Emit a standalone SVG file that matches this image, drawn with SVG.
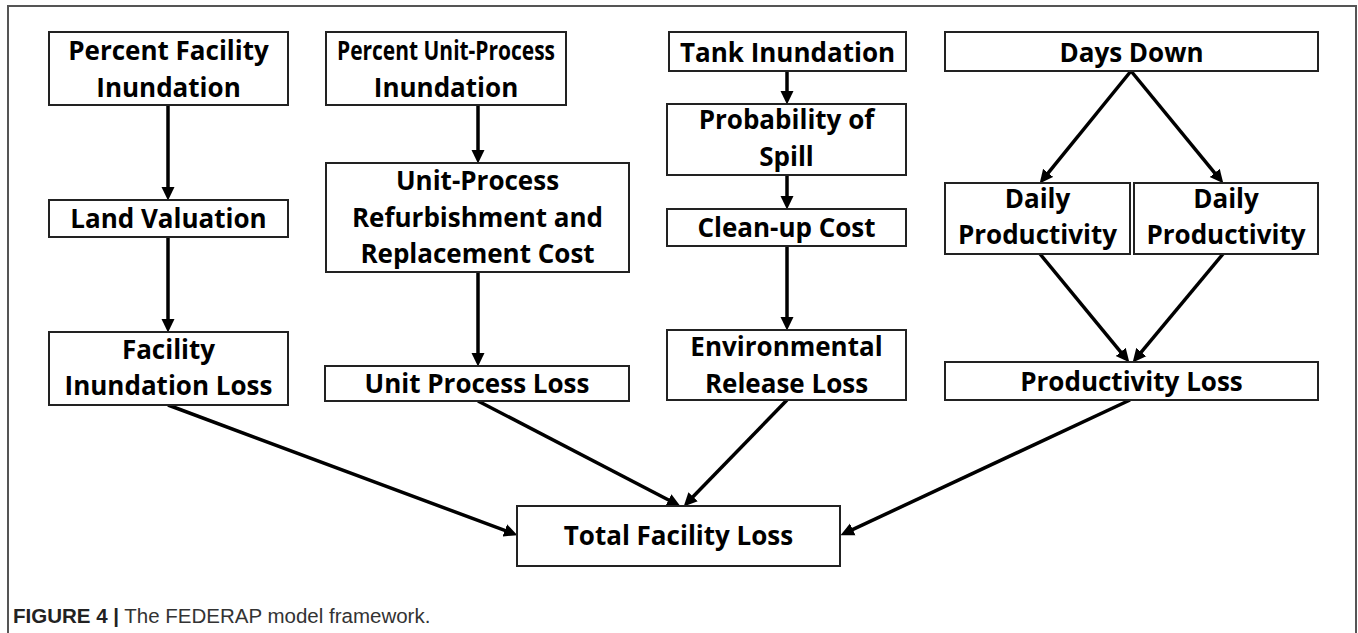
<svg xmlns="http://www.w3.org/2000/svg" width="1358" height="633" viewBox="0 0 1358 633">
<style>
.box{fill:#fff;stroke:#222;stroke-width:2}
.t{font-family:"Open Sans","Liberation Sans",sans-serif;font-weight:bold;font-size:26px;fill:#000;text-anchor:middle}
.c{stroke:#000;stroke-width:3.5;fill:none}
.frame{stroke:#555;stroke-width:2;fill:none}
.cap{font-family:"Liberation Sans",Arial,sans-serif;font-size:20.5px;fill:#333}
</style>
<defs>
<marker id="ah" markerUnits="userSpaceOnUse" markerWidth="14" markerHeight="14" viewBox="0 0 14 14" refX="5" refY="7" orient="auto">
<path d="M0,0.5 L13.5,7 L0,13.5 z" fill="#000"/>
</marker>
</defs>
<rect width="1358" height="633" fill="#fff"/>
<path class="frame" d="M8,633 L8,6 L1356,6 L1356,633"/>

<g id="connectors">
<line class="c" x1="168" y1="105" x2="168" y2="192" marker-end="url(#ah)"/>
<line class="c" x1="168" y1="237" x2="168" y2="324" marker-end="url(#ah)"/>
<line class="c" x1="478" y1="105" x2="478" y2="155" marker-end="url(#ah)"/>
<line class="c" x1="478" y1="272" x2="478" y2="358" marker-end="url(#ah)"/>
<line class="c" x1="787" y1="71" x2="787" y2="96" marker-end="url(#ah)"/>
<line class="c" x1="787" y1="175" x2="787" y2="201" marker-end="url(#ah)"/>
<line class="c" x1="787" y1="246" x2="787" y2="322" marker-end="url(#ah)"/>
<line class="c" x1="1131" y1="71" x2="1045" y2="176.8" marker-end="url(#ah)"/>
<line class="c" x1="1131" y1="71" x2="1217.9" y2="176.8" marker-end="url(#ah)"/>
<line class="c" x1="1040" y1="254" x2="1123.9" y2="355.8" marker-end="url(#ah)"/>
<line class="c" x1="1223" y1="254" x2="1138.1" y2="355.9" marker-end="url(#ah)"/>
<line class="c" x1="168" y1="405" x2="509.5" y2="532.2" marker-end="url(#ah)"/>
<line class="c" x1="478" y1="401" x2="672.9" y2="502.3" marker-end="url(#ah)"/>
<line class="c" x1="787" y1="400" x2="689.6" y2="500.3" marker-end="url(#ah)"/>
<line class="c" x1="1130" y1="400" x2="848.2" y2="531.6" marker-end="url(#ah)"/>
</g>

<g id="percent-facility-inundation">
<rect class="box" x="49" y="32" width="239" height="73"/>
<text class="t" x="168.5" y="60">Percent Facility</text>
<text class="t" x="168.5" y="97">Inundation</text>
</g>
<g id="land-valuation">
<rect class="box" x="49" y="200" width="239" height="37"/>
<text class="t" x="168.5" y="228">Land Valuation</text>
</g>
<g id="facility-inundation-loss">
<rect class="box" x="49" y="332" width="239" height="73"/>
<text class="t" x="168.5" y="359">Facility</text>
<text class="t" x="168.5" y="395">Inundation Loss</text>
</g>
<g id="percent-unit-process-inundation">
<rect class="box" x="326" y="32" width="240" height="73"/>
<text class="t" x="446" y="60" font-size="25" textLength="218" lengthAdjust="spacingAndGlyphs">Percent Unit-Process</text>
<text class="t" x="446" y="97">Inundation</text>
</g>
<g id="unit-process-cost">
<rect class="box" x="326" y="163" width="303" height="109"/>
<text class="t" x="477.5" y="190">Unit-Process</text>
<text class="t" x="477.5" y="227">Refurbishment and</text>
<text class="t" x="477.5" y="263">Replacement Cost</text>
</g>
<g id="unit-process-loss">
<rect class="box" x="325" y="366" width="304" height="35"/>
<text class="t" x="477" y="393">Unit Process Loss</text>
</g>
<g id="tank-inundation">
<rect class="box" x="669" y="32" width="237" height="39"/>
<text class="t" x="787.5" y="62">Tank Inundation</text>
</g>
<g id="probability-of-spill">
<rect class="box" x="667" y="104" width="239" height="71"/>
<text class="t" x="786.5" y="129">Probability of</text>
<text class="t" x="786.5" y="166">Spill</text>
</g>
<g id="clean-up-cost">
<rect class="box" x="667" y="209" width="239" height="37"/>
<text class="t" x="786.5" y="237">Clean-up Cost</text>
</g>
<g id="environmental-release-loss">
<rect class="box" x="667" y="330" width="239" height="70"/>
<text class="t" x="786.5" y="356">Environmental</text>
<text class="t" x="786.5" y="393">Release Loss</text>
</g>
<g id="days-down">
<rect class="box" x="945" y="32" width="373" height="39"/>
<text class="t" x="1131.5" y="62">Days Down</text>
</g>
<g id="daily-productivity-1">
<rect class="box" x="945" y="183" width="185" height="71"/>
<text class="t" x="1037.5" y="208">Daily</text>
<text class="t" x="1037.5" y="244">Productivity</text>
</g>
<g id="daily-productivity-2">
<rect class="box" x="1134" y="183" width="184" height="71"/>
<text class="t" x="1226" y="208">Daily</text>
<text class="t" x="1226" y="244">Productivity</text>
</g>
<g id="productivity-loss">
<rect class="box" x="945" y="362" width="373" height="38"/>
<text class="t" x="1131.5" y="391">Productivity Loss</text>
</g>
<g id="total-facility-loss">
<rect class="box" x="517" y="506" width="323" height="60"/>
<text class="t" x="678.5" y="545">Total Facility Loss</text>
</g>

<text class="cap" x="13" y="623"><tspan font-weight="bold" fill="#222">FIGURE 4 |</tspan> The FEDERAP model framework.</text>
</svg>
